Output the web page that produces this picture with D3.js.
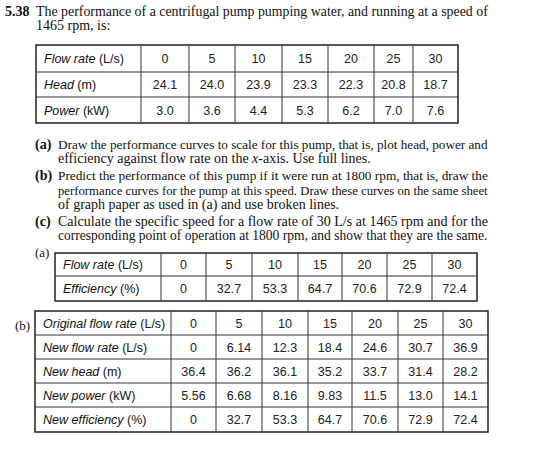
<!DOCTYPE html>
<html><head><meta charset="utf-8">
<script src="https://cdn.jsdelivr.net/npm/d3@7"></script>
<style>body{margin:0;background:#fff}</style></head>
<body><svg id="c" width="557" height="454"></svg>
<script>
const flow = [0,5,10,15,20,25,30];
const head = ["24.1","24.0","23.9","23.3","22.3","20.8","18.7"];
const power = ["3.0","3.6","4.4","5.3","6.2","7.0","7.6"];
const eff = ["0","32.7","53.3","64.7","70.6","72.9","72.4"];
const newFlow = ["0","6.14","12.3","18.4","24.6","30.7","36.9"];
const newHead = ["36.4","36.2","36.1","35.2","33.7","31.4","28.2"];
const newPower = ["5.56","6.68","8.16","9.83","11.5","13.0","14.1"];
const newEff = ["0","32.7","53.3","64.7","70.6","72.9","72.4"];

const svg = d3.select("#c");
const serif = "'Liberation Serif', 'DejaVu Serif', serif";
const sans = "'Liberation Sans', Arial, sans-serif";

function line(x, y, txt, w, opts={}) {
  const t = svg.append("text").attr("x", x).attr("y", y)
    .attr("font-family", serif).attr("font-size", opts.size||14).attr("fill","#111");
  if (opts.bold) t.attr("font-weight","bold");
  if (Array.isArray(txt)) txt.forEach(p => { const s=t.append("tspan").text(p.t); if(p.i) s.attr("font-style","italic"); });
  else t.text(txt);
  if (w) {
    const nat = t.node().getComputedTextLength();
    if (nat < w) t.attr("textLength", w).attr("lengthAdjust","spacing");
    else t.attr("font-size", (opts.size||14) * w / nat);
  }
  return t;
}
line(5, 16, "5.38", null, {bold:true});
line(36, 16, "The performance of a centrifugal pump pumping water, and running at a speed of", 452);
line(36, 30, "1465 rpm, is:");

line(35, 149, "(a)", null, {bold:true});
line(58, 149, "Draw the performance curves to scale for this pump, that is, plot head, power and", 430);
line(58, 163, [{t:"efficiency against flow rate on the "},{t:"x",i:true},{t:"-axis. Use full lines."}]);
line(35, 180, "(b)", null, {bold:true});
line(58, 180, "Predict the performance of this pump if it were run at 1800 rpm, that is, draw the", 430);
line(58, 195, "performance curves for the pump at this speed. Draw these curves on the same sheet", 430);
line(58, 209, "of graph paper as used in (a) and use broken lines.");
line(35, 226, "(c)", null, {bold:true});
line(58, 226, "Calculate the specific speed for a flow rate of 30 L/s at 1465 rpm and for the", 430);
line(58, 240, "corresponding point of operation at 1800 rpm, and show that they are the same.", 430);

line(35, 257, "(a)", null, {size:13});
line(15, 330, "(b)", null, {size:13});

function table(cols, rowsY, rows) {
  const g = svg.append("g");
  const x0 = cols[0], x1 = cols[cols.length-1], y0 = rowsY[0], y1 = rowsY[rowsY.length-1];
  g.append("rect").attr("x",x0).attr("y",y0).attr("width",x1-x0).attr("height",y1-y0)
    .attr("fill","none").attr("stroke","#222").attr("stroke-width",1.5);
  cols.slice(1,-1).forEach(c => g.append("line").attr("x1",c).attr("x2",c).attr("y1",y0).attr("y2",y1).attr("stroke","#333"));
  rowsY.slice(1,-1).forEach(r => g.append("line").attr("x1",x0).attr("x2",x1).attr("y1",r).attr("y2",r).attr("stroke","#333"));
  rows.forEach((row, i) => {
    const yc = (rowsY[i]+rowsY[i+1])/2 + 4.5;
    const t = g.append("text").attr("x", cols[0]+8).attr("y", yc).attr("font-family",sans).attr("font-size",12.5).attr("fill","#111");
    t.append("tspan").attr("font-style","italic").text(row.label);
    t.append("tspan").text(" " + row.unit);
    row.vals.forEach((v, j) => {
      g.append("text").attr("x",(cols[j+1]+cols[j+2])/2).attr("y",yc).attr("text-anchor","middle")
        .attr("font-family",sans).attr("font-size",12.5).attr("fill","#222").text(v);
    });
  });
}
table([36,141,189,235,282,328,374,413,458], [45,72,97,123], [
  {label:"Flow rate", unit:"(L/s)", vals:flow},
  {label:"Head", unit:"(m)", vals:head},
  {label:"Power", unit:"(kW)", vals:power}]);
table([55,161,206,252,298,342,387,432,477], [253,276,301], [
  {label:"Flow rate", unit:"(L/s)", vals:flow},
  {label:"Efficiency", unit:"(%)", vals:eff}]);
table([35,171,216,262,308,352,398,443,488], [311,335,359,383,407,432], [
  {label:"Original flow rate", unit:"(L/s)", vals:flow},
  {label:"New flow rate", unit:"(L/s)", vals:newFlow},
  {label:"New head", unit:"(m)", vals:newHead},
  {label:"New power", unit:"(kW)", vals:newPower},
  {label:"New efficiency", unit:"(%)", vals:newEff}]);
</script></body></html>
